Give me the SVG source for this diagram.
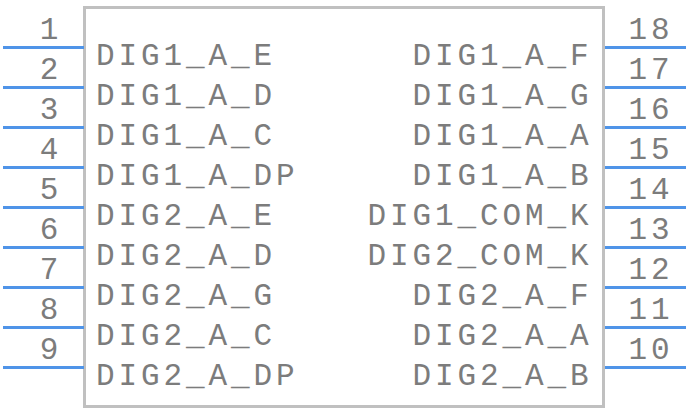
<svg xmlns="http://www.w3.org/2000/svg" width="688" height="412" viewBox="0 0 688 412">
<style>
.body{fill:#ffffff;stroke:#c0c0c0;stroke-width:3}
.pin{stroke:#4f94e8;stroke-width:3;fill:none}
.t{font-family:"Liberation Mono","Courier New",monospace;font-size:31px;letter-spacing:3.9px;fill:#7c7c7c}
.l{text-anchor:start}
.r{text-anchor:end}
.n{text-anchor:middle}
</style>
<rect width="688" height="412" fill="#ffffff"/>
<g id="body"><rect class="body" x="84.5" y="7.5" width="519" height="399"/></g>
<g id="connectors">
<line class="pin" x1="3" y1="47.5" x2="84" y2="47.5"/>
<line class="pin" x1="3" y1="87.5" x2="84" y2="87.5"/>
<line class="pin" x1="3" y1="127.5" x2="84" y2="127.5"/>
<line class="pin" x1="3" y1="167.5" x2="84" y2="167.5"/>
<line class="pin" x1="3" y1="207.5" x2="84" y2="207.5"/>
<line class="pin" x1="3" y1="247.5" x2="84" y2="247.5"/>
<line class="pin" x1="3" y1="287.5" x2="84" y2="287.5"/>
<line class="pin" x1="3" y1="327.5" x2="84" y2="327.5"/>
<line class="pin" x1="3" y1="367.5" x2="84" y2="367.5"/>
<line class="pin" x1="605" y1="47.5" x2="686" y2="47.5"/>
<line class="pin" x1="605" y1="87.5" x2="686" y2="87.5"/>
<line class="pin" x1="605" y1="127.5" x2="686" y2="127.5"/>
<line class="pin" x1="605" y1="167.5" x2="686" y2="167.5"/>
<line class="pin" x1="605" y1="207.5" x2="686" y2="207.5"/>
<line class="pin" x1="605" y1="247.5" x2="686" y2="247.5"/>
<line class="pin" x1="605" y1="287.5" x2="686" y2="287.5"/>
<line class="pin" x1="605" y1="327.5" x2="686" y2="327.5"/>
<line class="pin" x1="605" y1="367.5" x2="686" y2="367.5"/>
</g>
<g id="pin1"><text class="t n" x="51" y="39">1</text><text class="t l" x="96" y="65">DIG1_A_E</text></g>
<g id="pin2"><text class="t n" x="51" y="79">2</text><text class="t l" x="96" y="105">DIG1_A_D</text></g>
<g id="pin3"><text class="t n" x="51" y="119">3</text><text class="t l" x="96" y="145">DIG1_A_C</text></g>
<g id="pin4"><text class="t n" x="51" y="159">4</text><text class="t l" x="96" y="185">DIG1_A_DP</text></g>
<g id="pin5"><text class="t n" x="51" y="199">5</text><text class="t l" x="96" y="225">DIG2_A_E</text></g>
<g id="pin6"><text class="t n" x="51" y="239">6</text><text class="t l" x="96" y="265">DIG2_A_D</text></g>
<g id="pin7"><text class="t n" x="51" y="279">7</text><text class="t l" x="96" y="305">DIG2_A_G</text></g>
<g id="pin8"><text class="t n" x="51" y="319">8</text><text class="t l" x="96" y="345">DIG2_A_C</text></g>
<g id="pin9"><text class="t n" x="51" y="359">9</text><text class="t l" x="96" y="385">DIG2_A_DP</text></g>
<g id="pin18"><text class="t n" x="651" y="39">18</text><text class="t r" x="592.5" y="65">DIG1_A_F</text></g>
<g id="pin17"><text class="t n" x="651" y="79">17</text><text class="t r" x="592.5" y="105">DIG1_A_G</text></g>
<g id="pin16"><text class="t n" x="651" y="119">16</text><text class="t r" x="592.5" y="145">DIG1_A_A</text></g>
<g id="pin15"><text class="t n" x="651" y="159">15</text><text class="t r" x="592.5" y="185">DIG1_A_B</text></g>
<g id="pin14"><text class="t n" x="651" y="199">14</text><text class="t r" x="592.5" y="225">DIG1_COM_K</text></g>
<g id="pin13"><text class="t n" x="651" y="239">13</text><text class="t r" x="592.5" y="265">DIG2_COM_K</text></g>
<g id="pin12"><text class="t n" x="651" y="279">12</text><text class="t r" x="592.5" y="305">DIG2_A_F</text></g>
<g id="pin11"><text class="t n" x="651" y="319">11</text><text class="t r" x="592.5" y="345">DIG2_A_A</text></g>
<g id="pin10"><text class="t n" x="651" y="359">10</text><text class="t r" x="592.5" y="385">DIG2_A_B</text></g>
</svg>
